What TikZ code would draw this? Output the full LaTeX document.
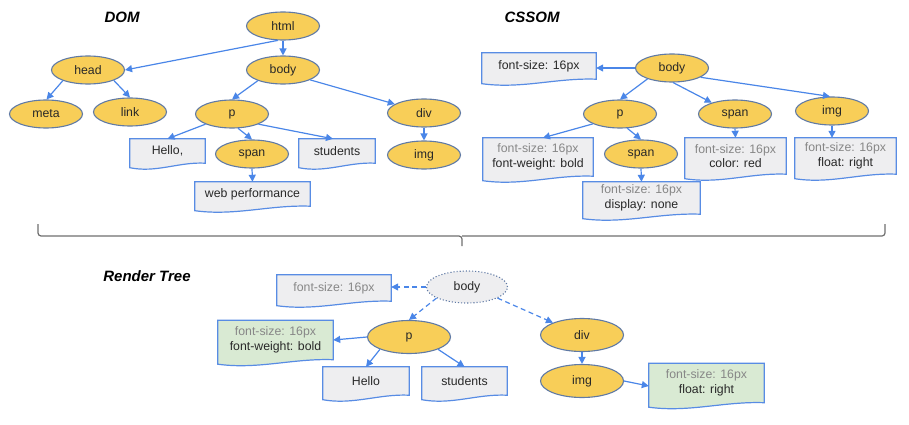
\documentclass[tikz,border=0pt]{standalone}
\usepackage{fontspec}
\setmainfont{Liberation Sans}
\usetikzlibrary{arrows.meta,shapes.geometric,calc,backgrounds}
\definecolor{elfill}{RGB}{248,206,88}
\definecolor{elborder}{RGB}{96,122,165}
\definecolor{arrowblue}{RGB}{74,134,232}
\definecolor{boxblue}{RGB}{88,140,228}
\definecolor{boxfill}{RGB}{238,238,240}
\definecolor{greenfill}{RGB}{217,234,211}
\definecolor{graytext}{RGB}{135,135,135}
\definecolor{textdark}{RGB}{40,40,40}
\definecolor{bracegray}{RGB}{110,110,110}
\newcommand{\gr}[1]{{\color{graytext}#1}}
\newcommand{\docshape}[2]{%
  \path[boxline, fill=#2] (#1.north west) -- (#1.north east) -- (#1.south east)
    .. controls ($(#1.south east)!0.35!(#1.south west)+(0,-1.5)$) and ($(#1.south west)!0.35!(#1.south east)+(0,10)$) .. ($(#1.south west)+(0,4.5)$)
    -- cycle;}
\tikzset{
  el/.style={ellipse, draw=elborder, fill=elfill, line width=1.1pt, minimum width=73pt, minimum height=28pt, inner sep=0pt, text=textdark},
  rel/.style={el, minimum width=83pt, minimum height=33pt},
  doc/.style={rectangle, inner sep=0pt, align=center, text=textdark},
  conn/.style={draw=arrowblue, line width=1.2pt, -{Triangle[length=7pt,width=7pt]}},
  dconn/.style={conn, dash pattern=on 5pt off 3.5pt},
  boxline/.style={draw=boxblue, line width=1.2pt},
  title/.style={font=\fontsize{15}{18}\selectfont\bfseries\itshape, text=black},
  brace/.style={draw=bracegray, line width=1.2pt, rounded corners=3pt},
}
\begin{document}
\begin{tikzpicture}[x=1pt,y=-1pt,font=\fontsize{12.3}{14.7}\selectfont]
\useasboundingbox (0,0) rectangle (909,425);
% titles
\node[title] (tdom) at (122,17) {DOM};
\node[title] (tcss) at (532,17) {CSSOM};
\node[title] (trt) at (147,276) {Render Tree};
% DOM
\node[el] (html) at (283,26) {html};
\node[el] (head) at (88,70) {head};
\node[el] (body) at (283,70) {body};
\node[el] (meta) at (46,114) {meta};
\node[el] (link) at (130,112) {link};
\node[el] (p) at (232,114) {p};
\node[el] (div) at (424,113) {div};
\node[el] (img) at (424,155) {img};
\node[el] (span) at (252,154) {span};
\node[doc, minimum width=75pt, minimum height=24pt] (hello) at (167.5,151) {Hello,};
\node[doc, minimum width=76pt, minimum height=24pt] (students) at (337,151) {students};
\node[doc, minimum width=115pt, minimum height=24pt] (web) at (252.5,194) {web performance};
% CSSOM
\node[el] (cbody) at (672,68) {body};
\node[doc, minimum width=114pt, minimum height=26pt] (cfs) at (539,66) {font-size: 16px};
\node[el] (cp) at (620,114) {p};
\node[el] (cspan) at (735,114) {span};
\node[el] (cimg) at (832,111) {img};
\node[el] (cspan2) at (641,154) {span};
\node[doc, minimum width=110pt, minimum height=38pt] (cpbox) at (538,157) {\gr{font-size: 16px}\\font-weight: bold};
\node[doc, minimum width=101pt, minimum height=36pt] (cspanbox) at (735.5,156) {\gr{font-size: 16px}\\color: red};
\node[doc, minimum width=101pt, minimum height=36pt] (cimgbox) at (845.5,156) {\gr{font-size: 16px}\\float: right};
\node[doc, minimum width=117pt, minimum height=32pt] (cspan2box) at (641.5,198) {\gr{font-size: 16px}\\display: none};
% Render tree
\node[ellipse, draw=elborder, dotted, line width=1.1pt, fill=boxfill, minimum width=81pt, minimum height=32pt, inner sep=0pt, text=textdark] (rbody) at (467,287) {body};
\node[doc, minimum width=114pt, minimum height=26pt] (rfs) at (334,288) {\gr{font-size: 16px}};
\node[rel] (rp) at (409,337) {p};
\node[doc, minimum width=115pt, minimum height=39pt] (rg1) at (275.5,340) {\gr{font-size: 16px}\\font-weight: bold};
\node[doc, minimum width=86pt, minimum height=28pt] (rhello) at (366,381) {Hello};
\node[doc, minimum width=85pt, minimum height=28pt] (rstud) at (464.5,381) {students};
\node[rel] (rdiv) at (582,335) {div};
\node[rel] (rimg) at (582,381) {img};
\node[doc, minimum width=115pt, minimum height=39pt] (rg2) at (706.5,383) {\gr{font-size: 16px}\\float: right};
% document shapes
\begin{pgfonlayer}{background}
\docshape{hello}{boxfill}
\docshape{students}{boxfill}
\docshape{web}{boxfill}
\docshape{cfs}{boxfill}
\docshape{cpbox}{boxfill}
\docshape{cspanbox}{boxfill}
\docshape{cimgbox}{boxfill}
\docshape{cspan2box}{boxfill}
\docshape{rfs}{boxfill}
\docshape{rg1}{greenfill}
\docshape{rhello}{boxfill}
\docshape{rstud}{boxfill}
\docshape{rg2}{greenfill}
\end{pgfonlayer}
% DOM edges
\draw[conn] (html.250) -- (head.east);
\draw[conn] (html.south) -- (body.north);
\draw[conn] (head.203) -- (meta.88);
\draw[conn] (head.338) -- (link.north);
\draw[conn] (body.203) -- (p.north);
\draw[conn] (body.340) -- (div.163);
\draw[conn] (p.201) -- (hello.north);
\draw[conn] (p.293) -- (span.north);
\draw[conn] (p.339) -- ([xshift=-4pt]students.north);
\draw[conn] (span.south) -- (web.north);
\draw[conn] (div.south) -- (img.north);
% CSSOM edges
\draw[conn] (cbody.west) -- (cbody.west -| cfs.east);
\draw[conn] (cbody.204) -- (cp.north);
\draw[conn] (cbody.274) -- (cspan.154);
\draw[conn] (cbody.342) -- (cimg.98);
\draw[conn] (cp.200) -- ([xshift=5pt]cpbox.north);
\draw[conn] (cp.297) -- (cspan2.north);
\draw[conn] (cspan.south) -- (cspanbox.north);
\draw[conn] (cimg.south) -- (cimg.south |- cimgbox.north);
\draw[conn] (cspan2.south) -- (cspan2box.north);
% Render tree edges
\draw[dconn] (rbody.west) -- (rbody.west -| rfs.east);
\draw[dconn] (rbody.200) -- (rp.north);
\draw[dconn] (rbody.340) -- (rdiv.157);
\draw[conn] (rp.west) -- (rg1.east);
\draw[conn] (rp.203) -- (rhello.north);
\draw[conn] (rp.337) -- (rstud.north);
\draw[conn] (rdiv.south) -- (rimg.north);
\draw[conn] (rimg.east) -- ([yshift=-3pt]rg2.west);
% brace
\coordinate (bl) at (38,224);
\coordinate (bm) at (462,236);
\coordinate (bt) at (462,246);
\coordinate (br) at (885,224);
\draw[brace] (bl) |- (bm) -- (bt);
\draw[brace] (bm) -| (br);
\end{tikzpicture}
\end{document}
